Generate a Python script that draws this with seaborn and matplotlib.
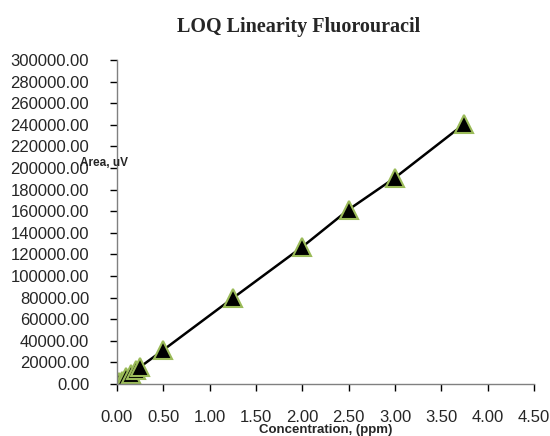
import numpy as np
import pandas as pd
import matplotlib
matplotlib.use("Agg")
import matplotlib.pyplot as plt
import seaborn as sns

# data
concentration = [0.025, 0.05, 0.10, 0.15, 0.20, 0.25, 0.50, 1.25, 2.00, 2.50, 3.00, 3.75]
area = [1500, 3200, 6400, 9600, 12800, 15800, 31500, 79500, 127000, 161500, 191000, 241000]

x_ticks = np.arange(0, 4.51, 0.5)
y_ticks = np.arange(0, 300001, 20000)

df = pd.DataFrame({"Concentration": concentration, "Area": area})

sns.set_theme(style="white")
plt.rcParams["font.family"] = ["Liberation Sans", "DejaVu Sans"]

fig = plt.figure(figsize=(5.5, 4.36), dpi=100)
ax = fig.add_axes([0.2127, 0.1193, 0.7582, 0.7431])

sns.lineplot(data=df, x="Concentration", y="Area", ax=ax, color="black",
             linewidth=1.8, marker="^", markersize=13,
             markerfacecolor="black", markeredgecolor="#9BBB59",
             markeredgewidth=1.5)

ax.set_xlim(0, 4.5)
ax.set_ylim(0, 300000)
ax.set_xticks(x_ticks)
ax.set_yticks(y_ticks)
ax.set_xticklabels([f"{v:.2f}" for v in x_ticks], fontsize=12)
ax.set_yticklabels([f"{v:.2f}" for v in y_ticks], fontsize=12)

for side in ["top", "right"]:
    ax.spines[side].set_visible(False)
for side in ["left", "bottom"]:
    ax.spines[side].set_color("#808080")
    ax.spines[side].set_linewidth(1.0)

ax.tick_params(axis="both", direction="out", length=5, width=1, color="black",
               left=True, bottom=True)
ax.tick_params(axis="x", pad=14)
ax.tick_params(axis="y", pad=15)

ax.set_xlabel("Concentration, (ppm)", fontsize=9.5, fontweight="bold")
ax.xaxis.set_label_coords(0.5, -0.142)
ax.xaxis.label.set_va("center")
ax.set_ylabel("")
fig.text(0.19, 1 - 163 / 436, "Area, uV", fontsize=8.5, fontweight="bold",
         ha="center", va="center")

fig.suptitle("LOQ Linearity Fluorouracil", x=0.543, y=1 - 27 / 436,
             fontsize=14.5, fontweight="bold", family="Liberation Serif",
             va="center")

fig.savefig("out.png", dpi=100)
plt.close(fig)
